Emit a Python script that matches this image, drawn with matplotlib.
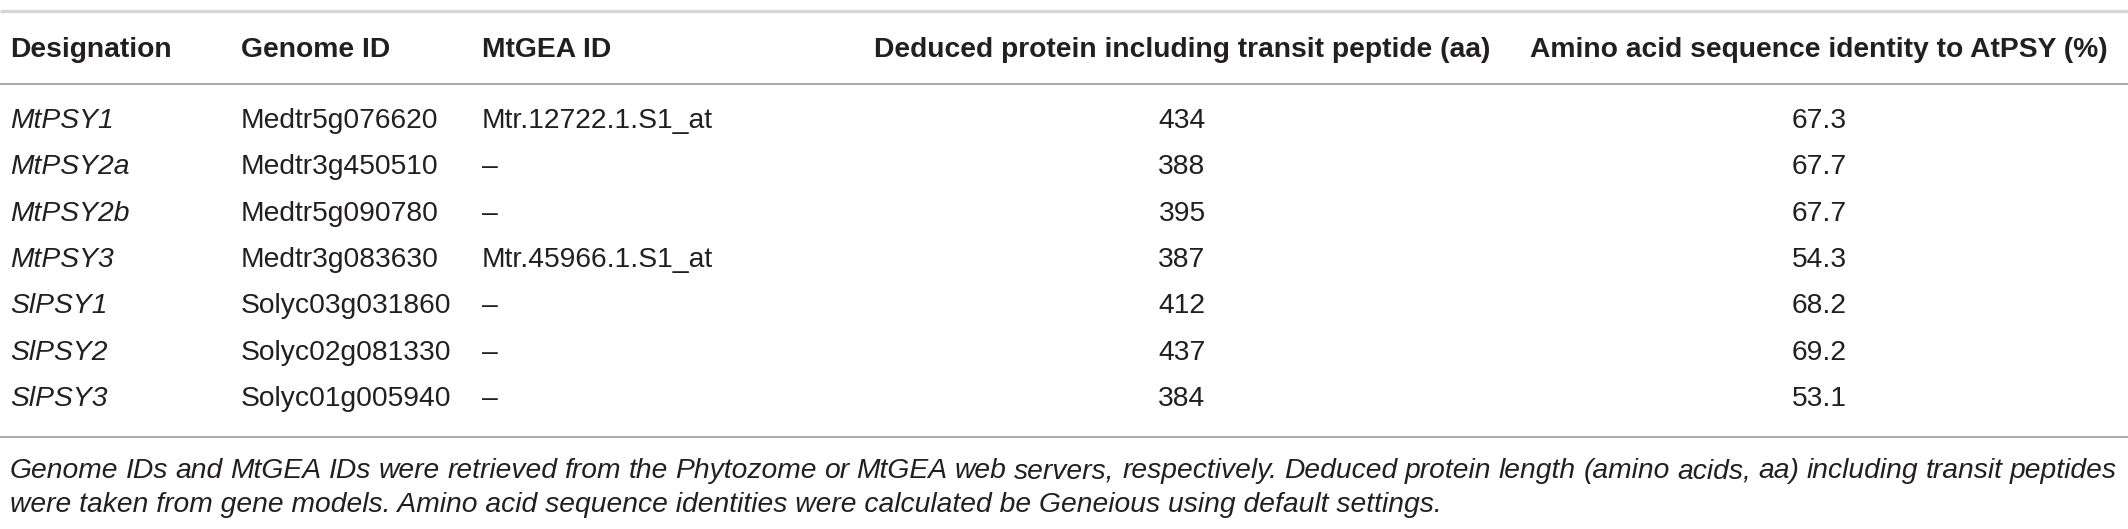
import matplotlib
matplotlib.use("Agg")
import matplotlib.pyplot as plt

# table content
headers = ["Designation", "Genome ID", "MtGEA ID",
           "Deduced protein including transit peptide (aa)",
           "Amino acid sequence identity to AtPSY (%)"]
designation = ["MtPSY1", "MtPSY2a", "MtPSY2b", "MtPSY3", "SlPSY1", "SlPSY2", "SlPSY3"]
genome_id = ["Medtr5g076620", "Medtr3g450510", "Medtr5g090780", "Medtr3g083630",
             "Solyc03g031860", "Solyc02g081330", "Solyc01g005940"]
mtgea_id = ["Mtr.12722.1.S1_at", "–", "–", "Mtr.45966.1.S1_at", "–", "–", "–"]
protein_len = [434, 388, 395, 387, 412, 437, 384]
identity = [67.3, 67.7, 67.7, 54.3, 68.2, 69.2, 53.1]
caption = [
    "Genome IDs and MtGEA IDs were retrieved from the Phytozome or MtGEA web servers, "
    "respectively. Deduced protein length (amino acids, aa) including transit peptides",
    "were taken from gene models. Amino acid sequence identities were calculated be "
    "Geneious using default settings.",
]

W, H = 2128, 529
fig = plt.figure(figsize=(W / 100, H / 100), dpi=100)
ax = fig.add_axes([0, 0, 1, 1])
ax.set_xlim(0, W)
ax.set_ylim(H, 0)
ax.axis("off")

ink = "#231f20"
font = ["Liberation Sans", "DejaVu Sans"]
fs = 20.3

# column layout: (x, alignment)
cols = [(10, "left"), (241, "left"), (482, "left"), (1182, "center"), (1819, "center")]
header_y = 50
row_y0, row_dy = 121, 46.3

ax.hlines(11, 0, W, color="#d6d6d6", lw=2.4)
ax.hlines(84, 0, W, color="#a9a9a9", lw=1.4)
ax.hlines(437, 0, W, color="#a9a9a9", lw=1.4)

for (x, ha), h in zip(cols, headers):
    ax.text(x, header_y, h, ha=ha, va="center", fontsize=fs, fontweight="bold",
            family=font, color=ink)

for i in range(len(designation)):
    y = row_y0 + i * row_dy
    cells = [designation[i], genome_id[i], mtgea_id[i],
             str(protein_len[i]), f"{identity[i]:.1f}"]
    for j, ((x, ha), c) in enumerate(zip(cols, cells)):
        ax.text(x, y, c, ha=ha, va="center", fontsize=fs, family=font, color=ink,
                style="italic" if j == 0 else "normal")

# caption: first line justified across the full width
fig.canvas.draw()
renderer = fig.canvas.get_renderer()
left, right = 10, 2117
cap_y = [471, 505]
words = caption[0].split(" ")
objs = [ax.text(0, cap_y[0], w, ha="left", va="center", fontsize=fs, family=font,
                color=ink, style="italic") for w in words]
widths = [o.get_window_extent(renderer).width for o in objs]
gap = (right - left - sum(widths)) / (len(words) - 1)
x = left
for o, w in zip(objs, widths):
    o.set_x(x)
    x += w + gap
ax.text(left, cap_y[1], caption[1], ha="left", va="center", fontsize=fs,
        family=font, color=ink, style="italic")

fig.savefig("out.png", dpi=100)
